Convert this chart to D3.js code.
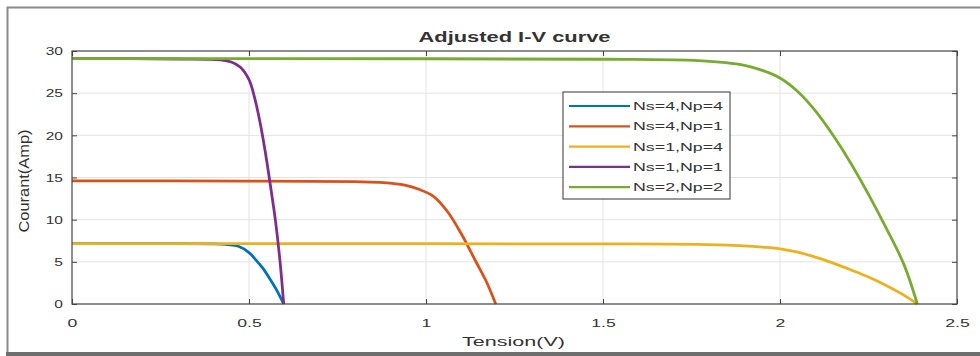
<!DOCTYPE html>
<html>
<head>
<meta charset="utf-8">
<script src="https://cdn.jsdelivr.net/npm/d3@7"></script>
<style>
  body { margin: 0; background: #fff; }
  text { font-family: Arial, "Liberation Sans", Helvetica, sans-serif; fill: #333; }
</style>
</head>
<body>
<div id="chart"></div>
<script>
// Values
var seriesNames = ["Ns=4,Np=4", "Ns=4,Np=1", "Ns=1,Np=4", "Ns=1,Np=1", "Ns=2,Np=2"];
var seriesColors = ["#0072BD", "#D95319", "#EDB120", "#7E2F8E", "#77AC30"];

var ns4np4V = [0, 0.2, 0.4, 0.44, 0.47, 0.5, 0.52, 0.54, 0.56, 0.58, 0.598];
var ns4np4I = [7.15, 7.15, 7.13, 7.05, 6.85, 6.1, 5.2, 4.2, 2.9, 1.5, 0];

var ns4np1V = [0, 0.5, 0.8, 0.88, 0.94, 0.98, 1.02, 1.06, 1.1, 1.14, 1.17, 1.197];
var ns4np1I = [14.6, 14.58, 14.5, 14.4, 14.1, 13.6, 12.8, 11.0, 8.3, 5.1, 2.7, 0];

var ns1np4V = [0, 1.0, 1.5, 1.8, 1.9, 1.95, 2.0, 2.05, 2.1, 2.15, 2.2, 2.25, 2.3, 2.35, 2.388];
var ns1np4I = [7.15, 7.15, 7.13, 7.05, 6.9, 6.75, 6.55, 6.15, 5.55, 4.85, 4.05, 3.2, 2.2, 1.05, 0];

var ns1np1V = [0, 0.3, 0.42, 0.45, 0.475, 0.5, 0.515, 0.53, 0.545, 0.56, 0.575, 0.588, 0.598];
var ns1np1I = [29.1, 29.05, 28.95, 28.7, 28.1, 26.6, 24.6, 21.8, 18.3, 14.2, 9.8, 4.9, 0];

var ns2np2V = [0, 1.0, 1.5, 1.77, 1.9, 1.95, 2.0, 2.05, 2.1, 2.15, 2.2, 2.25, 2.3, 2.35, 2.388];
var ns2np2I = [29.1, 29.08, 29.02, 28.85, 28.3, 27.7, 26.8, 25.2, 22.9, 20.0, 16.7, 13.0, 9.0, 4.7, 0];

var xTicks = [0, 0.5, 1, 1.5, 2, 2.5];
var xTickLabels = ["0", "0.5", "1", "1.5", "2", "2.5"];
var yTicks = [0, 5, 10, 15, 20, 25, 30];
var yTickLabels = ["0", "5", "10", "15", "20", "25", "30"];

var titleText = "Adjusted I-V curve";
var xLabel = "Tension(V)";
var yLabel = "Courant(Amp)";

// build series
var seriesV = [ns4np4V, ns4np1V, ns1np4V, ns1np1V, ns2np2V];
var seriesI = [ns4np4I, ns4np1I, ns1np4I, ns1np1I, ns2np2I];
var series = seriesNames.map(function(name, k) {
    return { name: name, color: seriesColors[k],
             points: seriesV[k].map(function(v, j) { return [v, seriesI[k][j]]; }) };
});

var W = 980, H = 356;
var margin = {top: 51, right: 23, bottom: 52, left: 72},
    width = W - margin.left - margin.right,
    height = H - margin.top - margin.bottom;

var svg = d3.select("#chart").append("svg")
    .attr("width", W)
    .attr("height", H);

// photo frame
svg.append("path")
    .attr("d", "M7.5," + (H - 3) + "V7.5H" + W)
    .attr("fill", "none")
    .attr("stroke", "#8a8a8a")
    .attr("stroke-width", 2);
svg.append("rect")
    .attr("x", 6).attr("y", H - 4)
    .attr("width", W - 6).attr("height", 4)
    .attr("fill", "#6e6e6e");

var g = svg.append("g")
    .attr("transform", "translate(" + margin.left + "," + margin.top + ")");

var x = d3.scaleLinear().domain([0, 2.5]).range([0, width]);
var y = d3.scaleLinear().domain([0, 30]).range([height, 0]);

// grid
g.append("g").selectAll("line").data(xTicks.slice(1, -1)).enter().append("line")
    .attr("x1", function(d) { return x(d); }).attr("x2", function(d) { return x(d); })
    .attr("y1", 0).attr("y2", height)
    .attr("stroke", "#e3e3e3").attr("stroke-width", 1);
g.append("g").selectAll("line").data(yTicks.slice(1, -1)).enter().append("line")
    .attr("y1", function(d) { return y(d); }).attr("y2", function(d) { return y(d); })
    .attr("x1", 0).attr("x2", width)
    .attr("stroke", "#e3e3e3").attr("stroke-width", 1);

// axes, ticks pointing inward on all four sides
var xAxis = g.append("g")
    .attr("transform", "translate(0," + height + ")")
    .call(d3.axisBottom(x).tickValues(xTicks)
        .tickFormat(function(d, i) { return xTickLabels[i]; })
        .tickSizeInner(-5).tickSizeOuter(0).tickPadding(15));
var yAxis = g.append("g")
    .call(d3.axisLeft(y).tickValues(yTicks)
        .tickFormat(function(d, i) { return yTickLabels[i]; })
        .tickSizeInner(-5).tickSizeOuter(0).tickPadding(9));
var xTop = g.append("g")
    .call(d3.axisTop(x).tickValues(xTicks).tickFormat("")
        .tickSizeInner(-5).tickSizeOuter(0));
var yRight = g.append("g")
    .attr("transform", "translate(" + width + ",0)")
    .call(d3.axisRight(y).tickValues(yTicks).tickFormat("")
        .tickSizeInner(-5).tickSizeOuter(0));

[xAxis, yAxis, xTop, yRight].forEach(function(a) {
    a.select(".domain").remove();
    a.selectAll("line").attr("stroke", "#444");
});
xAxis.selectAll("text")
    .attr("font-size", 11)
    .attr("fill", "#444")
    .attr("transform", "scale(1.6,1)");
yAxis.selectAll("text")
    .attr("font-size", 11.5)
    .attr("fill", "#444")
    .attr("x", -9 / 1.35)
    .attr("transform", "scale(1.35,1)");

// curves
var line = d3.line()
    .x(function(d) { return x(d[0]); })
    .y(function(d) { return y(d[1]); })
    .curve(d3.curveCatmullRom.alpha(0.5));

g.append("g").selectAll("path").data(series).enter().append("path")
    .attr("d", function(d) { return line(d.points); })
    .attr("fill", "none")
    .attr("stroke", function(d) { return d.color; })
    .attr("stroke-width", 2.8)
    .attr("stroke-linejoin", "round");

// axes box
g.append("rect")
    .attr("width", width).attr("height", height)
    .attr("fill", "none")
    .attr("stroke", "#444")
    .attr("stroke-width", 1.2);

// title and labels
svg.append("text")
    .attr("x", margin.left + width / 2).attr("y", 41.5)
    .attr("text-anchor", "middle")
    .attr("font-size", 14).attr("font-weight", "bold")
    .attr("fill", "#222")
    .attr("textLength", 192).attr("lengthAdjust", "spacingAndGlyphs")
    .text(titleText);

svg.append("text")
    .attr("x", margin.left + width / 2 - 1).attr("y", 346)
    .attr("text-anchor", "middle")
    .attr("font-size", 13)
    .attr("fill", "#444")
    .attr("textLength", 103).attr("lengthAdjust", "spacingAndGlyphs")
    .text(xLabel);

svg.append("text")
    .attr("transform", "translate(29,181) rotate(-90)")
    .attr("text-anchor", "middle")
    .attr("font-size", 14)
    .attr("fill", "#444")
    .attr("textLength", 103).attr("lengthAdjust", "spacingAndGlyphs")
    .text(yLabel);

// legend
var legend = svg.append("g").attr("transform", "translate(563,92)");
legend.append("rect")
    .attr("width", 167).attr("height", 107)
    .attr("fill", "#fff")
    .attr("stroke", "#555")
    .attr("stroke-width", 1.2);

var rows = legend.selectAll("g.row").data(series).enter().append("g")
    .attr("class", "row")
    .attr("transform", function(d, i) { return "translate(0," + (14 + i * 20.3) + ")"; });
rows.append("line")
    .attr("x1", 6).attr("x2", 67)
    .attr("stroke", function(d) { return d.color; })
    .attr("stroke-width", 2.2);
rows.append("text")
    .attr("x", 70).attr("dy", "0.36em")
    .attr("font-size", 11.5)
    .attr("fill", "#444")
    .attr("textLength", 90).attr("lengthAdjust", "spacingAndGlyphs")
    .text(function(d) { return d.name; });
</script>
</body>
</html>
